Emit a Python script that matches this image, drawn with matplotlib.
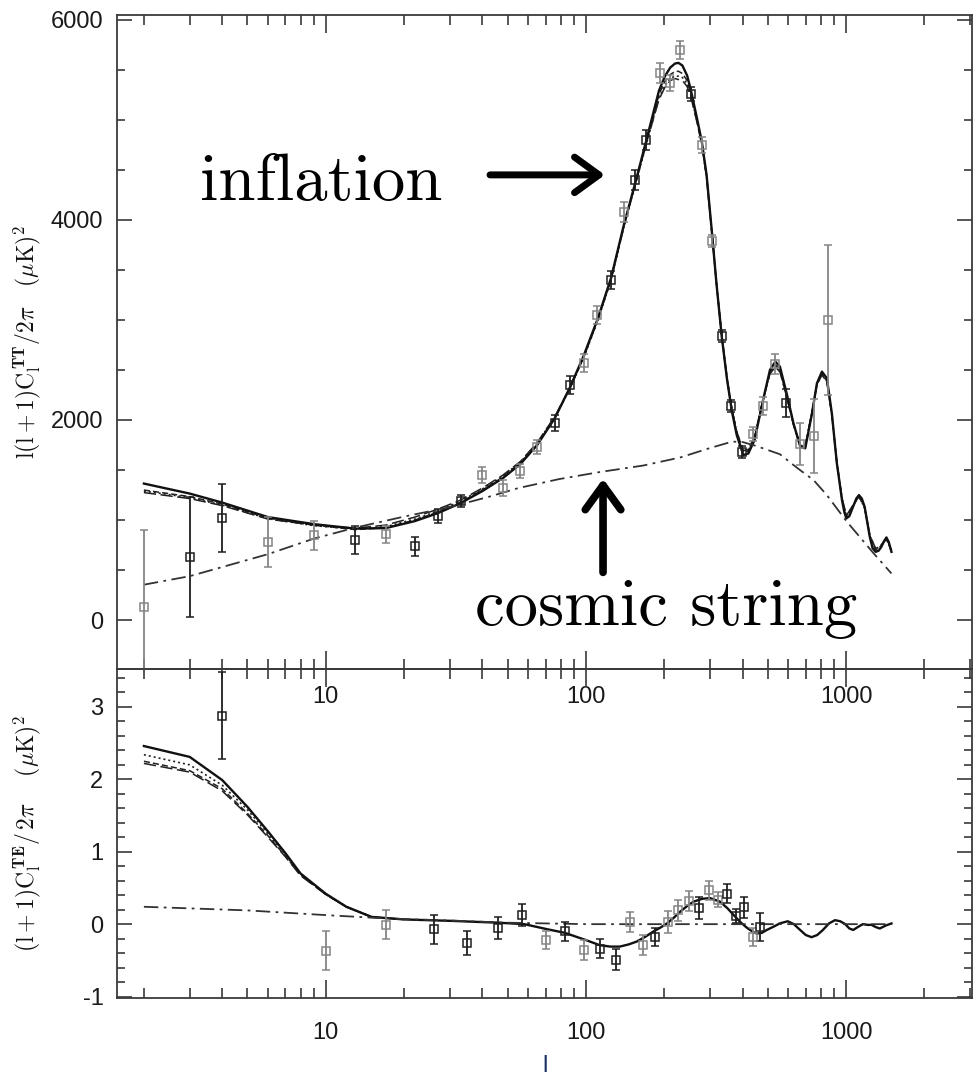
import numpy as np
import matplotlib
matplotlib.use('Agg')
import matplotlib.pyplot as plt
from matplotlib.ticker import LogLocator, MultipleLocator, NullFormatter

plt.rcParams['mathtext.fontset'] = 'cm'
plt.rcParams['font.family'] = ['Liberation Sans', 'DejaVu Sans']
plt.rcParams['axes.unicode_minus'] = False

# ---------------- TT panel data ----------------
tt_l = [2, 3, 4, 6, 9, 13, 17, 22, 27, 33, 40, 48, 56, 65, 76, 87, 98, 111, 125, 140,
        156, 171, 191, 201, 211, 220, 227, 235, 245, 253, 267, 279, 291, 305, 318, 333,
        349, 364, 380, 403, 421, 445, 480, 510, 535, 557, 591, 628, 667, 697, 740, 773,
        808, 844, 882, 922, 945, 965, 985, 1003, 1030, 1064, 1095, 1121, 1150, 1179, 1205,
        1234, 1265, 1300, 1335, 1367, 1400, 1430, 1460, 1495]
tt_solid = [1365, 1265, 1175, 1030, 960, 915, 920, 990, 1070, 1170, 1290, 1420, 1560, 1750,
            2020, 2330, 2640, 3010, 3420, 3950, 4400, 4800, 5290, 5430, 5520, 5560, 5567,
            5540, 5440, 5300, 5020, 4780, 4450, 3880, 3350, 2830, 2400, 2090, 1850, 1650,
            1665, 1800, 2200, 2500, 2583, 2533, 2267, 1967, 1733, 1717, 2067, 2367, 2483,
            2417, 2067, 1567, 1370, 1200, 1080, 1017, 1040, 1133, 1215, 1250, 1215, 1133,
            990, 833, 720, 683, 695, 733, 790, 827, 780, 683]

tt_var_l = [2, 3, 4, 6, 9, 13, 17, 22, 27, 33, 40, 48, 56, 65, 76, 87, 98, 111, 125, 140,
            156, 171, 191, 201, 211, 220, 227, 235, 245, 253, 267, 279, 291, 305, 318, 333,
            349, 364, 380, 403, 421, 445, 480, 510, 535, 557, 591, 628, 667, 697, 740, 773,
            808, 844, 882, 922, 965, 1003, 1064, 1121, 1179, 1234, 1300, 1367, 1430, 1495]
tt_dash = [1300, 1235, 1160, 1020, 950, 905, 925, 1000, 1080, 1180, 1300, 1430, 1570, 1760,
           2020, 2320, 2630, 3000, 3410, 3940, 4390, 4780, 5250, 5380, 5450, 5480, 5483,
           5460, 5390, 5270, 5000, 4770, 4440, 3880, 3350, 2830, 2400, 2100, 1870, 1680,
           1690, 1820, 2200, 2480, 2550, 2500, 2250, 1960, 1740, 1730, 2070, 2360, 2470,
           2400, 2060, 1570, 1210, 1030, 1140, 1245, 1130, 840, 700, 745, 820, 690]
tt_dot = [1290, 1225, 1150, 1015, 945, 910, 935, 1010, 1090, 1190, 1310, 1440, 1580, 1770,
          2030, 2320, 2620, 2990, 3400, 3930, 4380, 4760, 5220, 5340, 5410, 5435, 5433,
          5420, 5360, 5250, 4990, 4760, 4430, 3870, 3350, 2840, 2410, 2110, 1880, 1690,
          1700, 1830, 2210, 2470, 2540, 2490, 2240, 1955, 1745, 1740, 2075, 2355, 2460,
          2390, 2055, 1575, 1215, 1040, 1145, 1240, 1125, 845, 710, 750, 815, 695]
tt_ldash = [1275, 1215, 1145, 1010, 950, 920, 950, 1030, 1110, 1200, 1320, 1450, 1585, 1775,
            2035, 2325, 2625, 2995, 3405, 3935, 4385, 4770, 5200, 5320, 5390, 5410, 5400,
            5390, 5330, 5230, 4980, 4750, 4425, 3870, 3355, 2845, 2415, 2115, 1885, 1695,
            1705, 1835, 2205, 2460, 2530, 2480, 2235, 1950, 1750, 1745, 2080, 2350, 2450,
            2380, 2050, 1580, 1220, 1045, 1150, 1235, 1120, 850, 715, 755, 810, 700]

cs_tt_l = [2, 3, 6, 9, 13, 20, 30, 42, 55, 79, 113, 166, 230, 300, 365, 400, 451, 557,
           650, 750, 844, 1003, 1275, 1495]
cs_tt = [355, 440, 660, 815, 925, 1035, 1130, 1230, 1320, 1410, 1480, 1545, 1625, 1720,
         1784, 1780, 1741, 1658, 1520, 1400, 1250, 990, 670, 467]

tt_dark_l = [3, 4, 13, 22, 27, 33, 76, 87, 125, 155, 171, 253, 333, 362, 398, 590]
tt_dark_v = [630, 1020, 800, 740, 1040, 1190, 1973, 2350, 3396, 4400, 4800, 5260, 2840,
             2140, 1683, 2170]
tt_dark_e = [600, 340, 140, 95, 70, 60, 80, 90, 90, 100, 100, 70, 60, 60, 60, 140]
tt_grey_l = [2, 6, 9, 17, 40, 48, 56, 65, 98, 110, 140, 192, 211, 231, 279, 305, 437, 480,
             535, 665, 753, 856]
tt_grey_v = [130, 780, 850, 860, 1450, 1317, 1493, 1733, 2567, 3050, 4081, 5467, 5367, 5700,
             4750, 3790, 1860, 2140, 2560, 1760, 1840, 3000]
tt_grey_e = [770, 250, 145, 85, 80, 80, 70, 70, 90, 90, 100, 100, 80, 90, 80, 60, 70, 90,
             100, 210, 365, 750]

# ---------------- TE panel data ----------------
te_l = [2, 3, 4, 5, 6, 7, 8, 10, 12, 15, 20, 30, 39, 46, 58, 71, 83, 100, 113, 124, 135,
        146, 157, 170, 182, 193, 205, 218, 230, 245, 259, 280, 300, 328, 350, 369, 392,
        416, 440, 454, 475, 496, 530, 556, 597, 630, 666, 700, 737, 775, 815, 860, 907,
        950, 993, 1030, 1066, 1110, 1160, 1210, 1254, 1300, 1348, 1420, 1495]
te_solid = [2.46, 2.31, 1.99, 1.62, 1.28, 0.98, 0.70, 0.42, 0.24, 0.10, 0.065, 0.046, 0.03,
            0.02, 0.0, -0.07, -0.12, -0.22, -0.29, -0.31, -0.31, -0.28, -0.24, -0.17, -0.10,
            -0.05, 0.01, 0.09, 0.17, 0.25, 0.31, 0.35, 0.36, 0.31, 0.22, 0.13, 0.03, -0.05,
            -0.11, -0.13, -0.12, -0.08, -0.03, 0.01, 0.04, 0.0, -0.08, -0.15, -0.18, -0.15,
            -0.08, 0.01, 0.055, 0.04, 0.0, -0.06, -0.08, -0.04, 0.0, -0.01, -0.01, -0.04,
            -0.06, -0.02, 0.01]

te_var_l = [2, 3, 4, 5, 6, 7, 8, 10, 12, 15, 20]
te_dot = [2.34, 2.20, 1.92, 1.58, 1.25, 0.96, 0.69, 0.42, 0.24, 0.10, 0.065]
te_dash = [2.25, 2.12, 1.87, 1.53, 1.22, 0.94, 0.68, 0.41, 0.24, 0.10, 0.065]
te_ldash = [2.22, 2.10, 1.84, 1.51, 1.20, 0.93, 0.67, 0.41, 0.24, 0.10, 0.065]

cs_te_l = [2, 5, 10, 15, 20, 30, 50, 100, 200, 500, 1000, 1500]
cs_te = [0.24, 0.19, 0.125, 0.09, 0.07, 0.05, 0.02, 0.0, 0.0, 0.0, 0.0, 0.0]

te_dark_l = [4, 26, 35, 46, 57, 83, 113, 130, 184, 273, 350, 378, 407, 467]
te_dark_v = [2.88, -0.07, -0.26, -0.05, 0.13, -0.10, -0.34, -0.49, -0.18, 0.22, 0.42, 0.11,
             0.23, -0.04]
te_dark_e = [0.6, 0.2, 0.17, 0.15, 0.15, 0.13, 0.13, 0.14, 0.12, 0.15, 0.13, 0.1, 0.15, 0.19]
te_grey_l = [10, 17, 70, 98, 148, 166, 206, 227, 250, 298, 323, 438]
te_grey_v = [-0.37, -0.01, -0.22, -0.36, 0.03, -0.29, 0.03, 0.19, 0.32, 0.47, 0.34, -0.18]
te_grey_e = [0.27, 0.2, 0.13, 0.14, 0.14, 0.14, 0.15, 0.14, 0.14, 0.13, 0.1, 0.12]

x_ticks = [10, 100, 1000]
x_ticklabels = ['10', '100', '1000']
tt_yticks = [0, 2000, 4000, 6000]
te_yticks = [-1, 0, 1, 2, 3]

# ---------------- figure ----------------
fig = plt.figure(figsize=(9.77, 10.78), dpi=100)
ax1 = fig.add_axes([0.1201, 0.37913, 0.8748, 0.60696])
ax2 = fig.add_axes([0.1201, 0.07421, 0.8748, 0.30492])
ax2.patch.set_visible(False)

DARK = '#1e1e1e'
GREY = '#858585'
LC = '#202020'


def draw_models(ax, l, solid, vl, dash, dot, ldash, csl, cs):
    ax.plot(vl, ldash, color=LC, lw=1.1, ls=(0, (8, 3)))
    ax.plot(vl, dot, color=LC, lw=1.2, ls=(0, (1.2, 1.8)))
    ax.plot(vl, dash, color=LC, lw=1.1, ls=(0, (4, 2)))
    ax.plot(l, solid, color='#111111', lw=1.7, ls='-')
    ax.plot(csl, cs, color='#333333', lw=1.3, ls=(0, (8, 3, 1.5, 3)))


def draw_points(ax, l, v, e, col):
    ax.errorbar(l, v, yerr=e, fmt='s', ms=5.2, mfc='none', mec=col, mew=1.1,
                ecolor=col, elinewidth=1.3, capsize=3.2, capthick=1.2, zorder=5)


draw_models(ax1, tt_l, tt_solid, tt_var_l, tt_dash, tt_dot, tt_ldash, cs_tt_l, cs_tt)
draw_points(ax1, tt_grey_l, tt_grey_v, tt_grey_e, GREY)
draw_points(ax1, tt_dark_l, tt_dark_v, tt_dark_e, DARK)

draw_models(ax2, te_l, te_solid, te_var_l, te_dash, te_dot, te_ldash, cs_te_l, cs_te)
draw_points(ax2, te_grey_l, te_grey_v, te_grey_e, GREY)
draw_points(ax2, te_dark_l, te_dark_v, te_dark_e, DARK)

SPC = '#3a3a3a'
for ax in (ax1, ax2):
    ax.set_xscale('log')
    ax.set_xlim(1.581, 3050)
    ax.xaxis.set_major_locator(plt.FixedLocator(x_ticks))
    ax.xaxis.set_minor_locator(LogLocator(base=10, subs=range(2, 10), numticks=20))
    ax.xaxis.set_minor_formatter(NullFormatter())
    ax.set_xticklabels(x_ticklabels)
    ax.tick_params(which='both', direction='in', top=True, right=True, color=SPC,
                   width=1.2, labelsize=17, labelcolor='#1a1a1a')
    ax.xaxis.set_tick_params(which='major', length=13)
    ax.xaxis.set_tick_params(which='minor', length=7)
    ax.yaxis.set_tick_params(which='major', length=11, pad=10)
    ax.yaxis.set_tick_params(which='minor', length=6)
    for s in ax.spines.values():
        s.set_color(SPC)
        s.set_linewidth(1.3)

ax1.set_ylim(-490, 6045)
ax1.set_yticks(tt_yticks)
ax1.yaxis.set_minor_locator(MultipleLocator(500))
ax1.xaxis.set_tick_params(which='major', pad=12)

ax2.set_ylim(-1.02, 3.52)
ax2.set_yticks(te_yticks)
ax2.yaxis.set_minor_locator(MultipleLocator(0.2))
ax2.xaxis.set_tick_params(which='major', pad=17)

ax1.set_ylabel(r'$\mathrm{l(l+1)C_l^{\,\mathbf{TT}}/2\pi\quad(\mu K)^2}$', fontsize=17,
               color='#111111')
ax1.yaxis.set_label_coords(-0.087, 0.5)
ax2.set_ylabel(r'$\mathrm{(l+1)C_l^{\,\mathbf{TE}}/\,2\pi\quad\ (\mu K)^2}$', fontsize=17,
               color='#111111')
ax2.yaxis.set_label_coords(-0.087, 0.5)
ax2.set_xlabel('l', fontsize=17, color='#1a3060', labelpad=8)

# annotations
ax1.text(3.29, 4200, 'inflation', fontfamily='cmr10', fontsize=48, va='baseline',
         ha='left', color='black')
ax1.text(37.5, -50, 'cosmic string', fontfamily='cmr10', fontsize=48, va='baseline',
         ha='left', color='black')
ax1.annotate('', xy=(118.3, 4448), xytext=(42.8, 4448),
             arrowprops=dict(arrowstyle='->,head_length=0.55,head_width=0.4', lw=5,
                             color='black', mutation_scale=32, shrinkA=0, shrinkB=0))
ax1.annotate('', xy=(116.4, 1413), xytext=(116.4, 478),
             arrowprops=dict(arrowstyle='->,head_length=0.55,head_width=0.4', lw=5.5,
                             color='black', mutation_scale=32, shrinkA=0, shrinkB=0))

fig.savefig('out.png', dpi=100)
